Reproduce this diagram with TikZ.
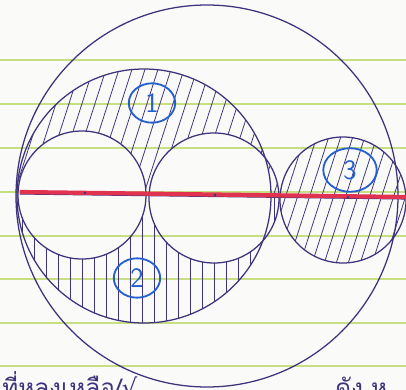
\documentclass[tikz,border=0pt]{standalone}
\usepackage{fontspec}
\usetikzlibrary{shapes.geometric}
\newfontfamily\thaifont[Script=Thai]{Loma}
\newfontfamily\symfont{DejaVu Sans}
\definecolor{pen}{RGB}{62,52,125}
\definecolor{bluepen}{RGB}{35,95,205}
\definecolor{redpen}{RGB}{225,50,80}
\definecolor{ruling}{RGB}{200,222,130}
\definecolor{paper}{RGB}{250,250,248}
\tikzset{
  penline/.style={draw=pen, line width=0.9pt},
  hatch/.style={pen, line width=0.55pt},
  numlabel/.style={ellipse, draw=bluepen, line width=1.3pt, text=bluepen, inner sep=0pt,
     minimum width=33pt, minimum height=28pt, font=\sffamily\fontsize{20}{20}\selectfont},
  thaitext/.style={anchor=base west, text=pen, font=\thaifont\LARGE, inner sep=0pt}
}
\begin{document}
\begin{tikzpicture}[x=0.25mm,y=-0.25mm]
\useasboundingbox (0,0) rectangle (406,390);
\fill[paper] (0,0) rectangle (406,390);
\clip (0,0) rectangle (406,390);
% ruled lines
\foreach \yy in {60,104,148,192,236,279,323,366}
  \draw[ruling, line width=1pt] (0,\yy) -- (406,\yy);
% hatching region 1 (top of medium circle)
\begin{scope}[even odd rule]
  \clip (-10,-10) rectangle (420,196);
  \clip (144,196) circle (127) (82,195) circle (64) (214,198) circle (65);
  \foreach \xx in {-40,-27,...,300}
    \draw[hatch] (\xx,200) -- ++(45,-140);
\end{scope}
% hatching region 2 (bottom of medium circle)
\begin{scope}[even odd rule]
  \clip (-10,196) rectangle (420,400);
  \clip (144,196) circle (127) (82,195) circle (64) (214,198) circle (65);
  \foreach \xx in {22,34,...,280}
    \draw[hatch] (\xx,190) -- (\xx,325);
\end{scope}
% hatching region 3
\begin{scope}
  \clip (343,200) circle (63);
  \foreach \xx in {250,262,...,420}
    \draw[hatch] (\xx,270) -- ++(45,-140);
\end{scope}
% circles
\draw[penline] (207,196) circle (191);
\draw[penline] (144,196) circle (127);
\draw[penline] (82,195) circle (64);
\draw[penline] (214,198) circle (65);
\draw[penline] (343,200) circle (63);
% diameter line
\coordinate (L) at (20,192);
\coordinate (R) at (406,197);
\draw[pen, line width=0.8pt] (20,194) -- (406,199);
\draw[redpen, line width=3pt] (L) -- (R);
\foreach \xx/\yy in {85/193,215/195,348/197}
  \fill[pen] (\xx,\yy) circle (1.3);
% labels
\node[numlabel] (one) at (152,103) {1};
\node[numlabel] (two) at (137,278) {2};
\node[numlabel, minimum width=38pt, minimum height=31pt] (three) at (350,170) {3};
% bottom text (cut off by the edge, as in the reference)
\node[thaitext] (t1) at (2,396) {ที่หลงเหลือ/{\symfont √}};
\node[thaitext] (t2) at (335,396) {ดัง ห};
\end{tikzpicture}
\end{document}
